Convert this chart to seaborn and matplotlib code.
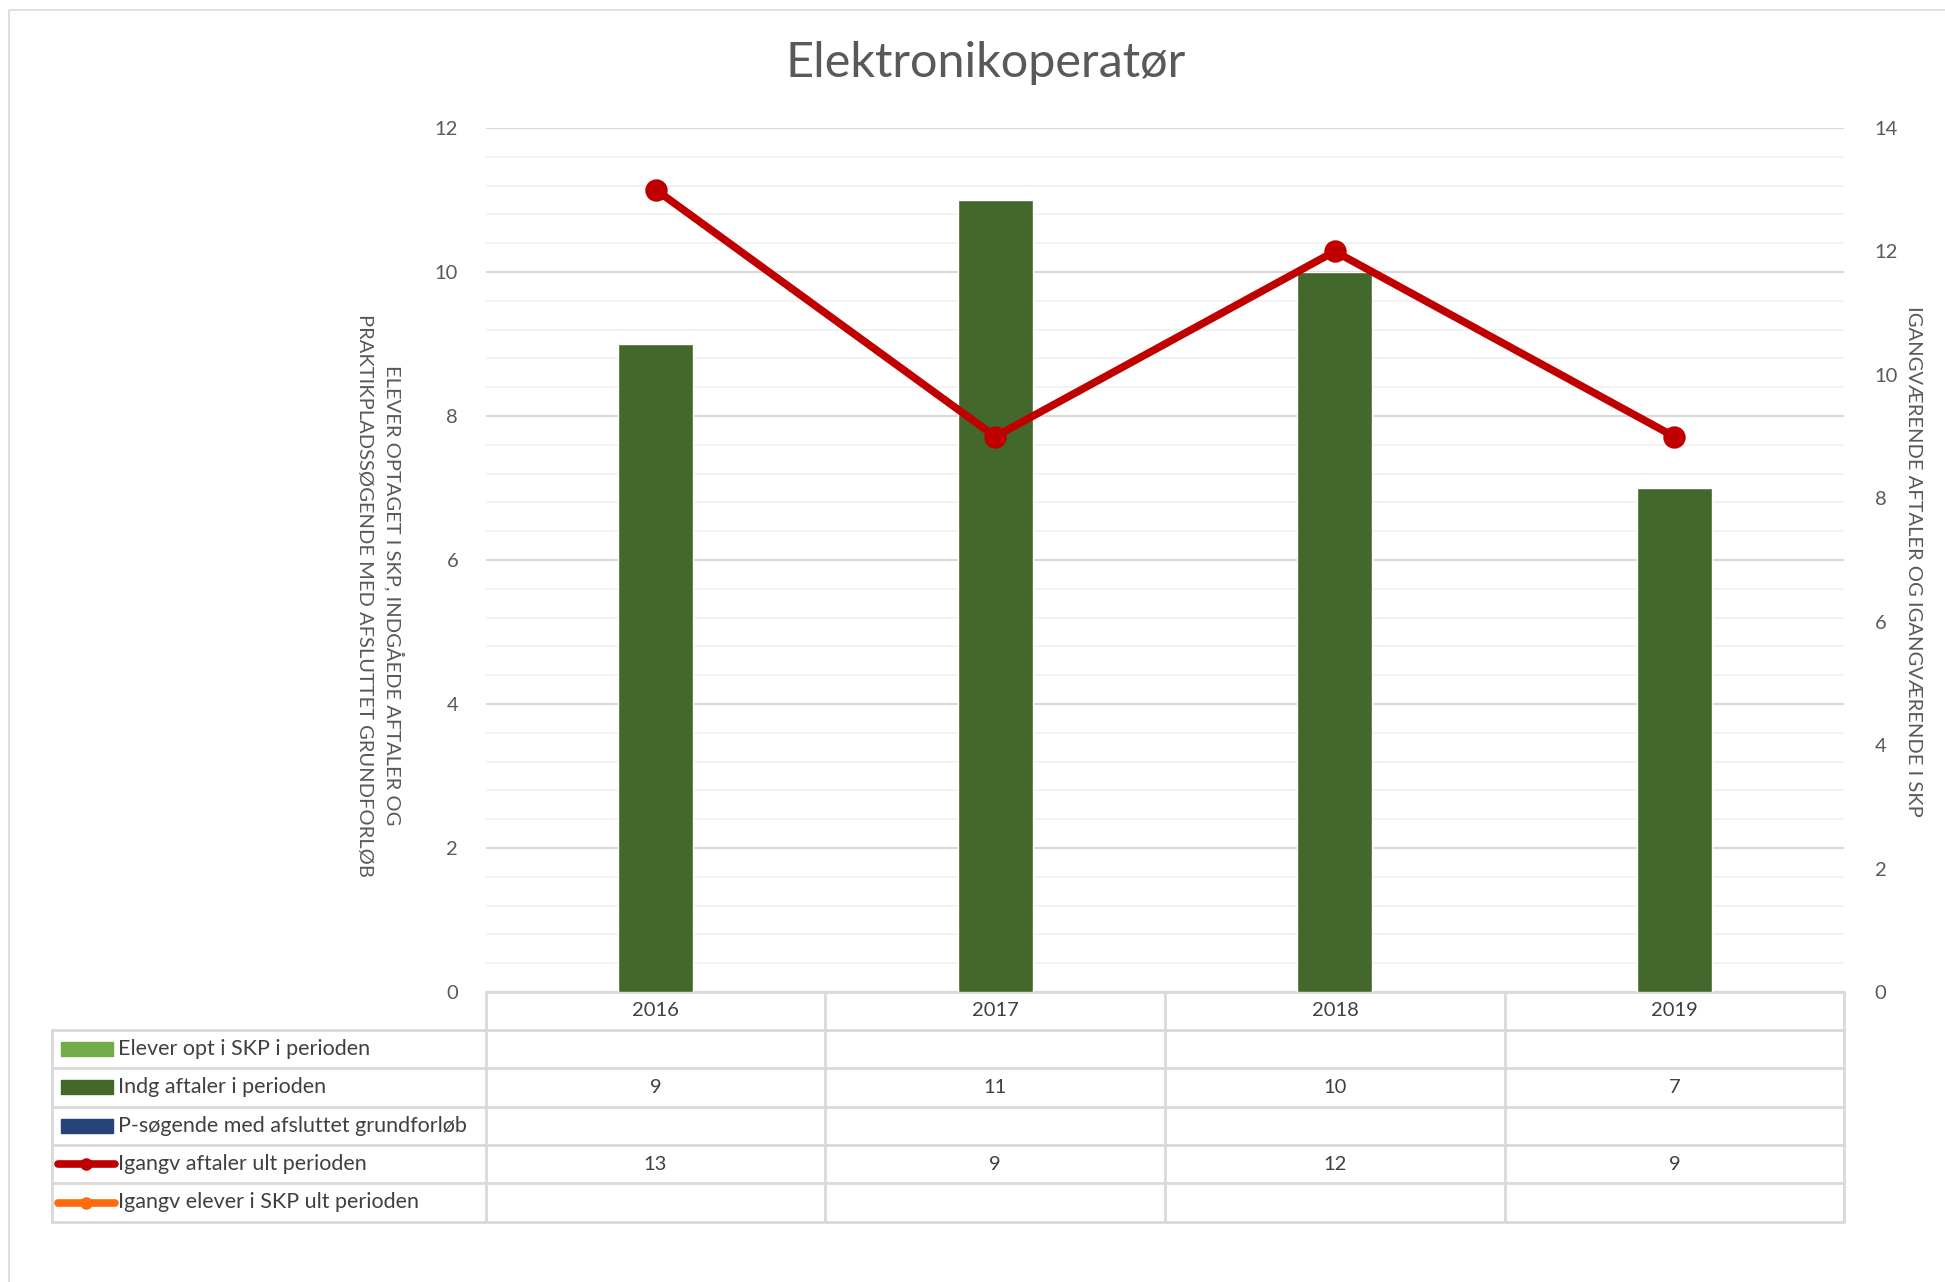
import numpy as np
import pandas as pd
import matplotlib
matplotlib.use("Agg")
import matplotlib.pyplot as plt
from matplotlib.lines import Line2D
from matplotlib.patches import Rectangle
import seaborn as sns

# data
years = ["2016", "2017", "2018", "2019"]
elever_opt = [None, None, None, None]
indg_aftaler = [9, 11, 10, 7]
p_sogende = [None, None, None, None]
igangv_aftaler = [13, 9, 12, 9]
igangv_elever = [None, None, None, None]

series_names = [
    "Elever opt i SKP i perioden",
    "Indg aftaler i perioden",
    "P-søgende med afsluttet grundforløb",
    "Igangv aftaler ult perioden",
    "Igangv elever i SKP ult perioden",
]
series_values = [elever_opt, indg_aftaler, p_sogende, igangv_aftaler, igangv_elever]
series_colors = ["#70AD47", "#43682B", "#264478", "#C00000", "#FF6A0D"]
series_kind = ["bar", "bar", "bar", "line", "line"]

title = "Elektronikoperatør"
left_label = "ELEVER OPTAGET I SKP, INDGÅEDE AFTALER OG\nPRAKTIKPLADSSØGENDE MED AFSLUTTET GRUNDFORLØB"
right_label = "IGANGVÆRENDE AFTALER OG IGANGVÆRENDE I SKP"

sns.set_style("white")
plt.rcParams['font.family'] = ['Lato', 'DejaVu Sans']

W, H = 1945, 1282
fig = plt.figure(figsize=(W / 100, H / 100), dpi=100)

# plot area in pixels
L, R, T, B = 486, 1844, 128, 992
ax = fig.add_axes([L / W, 1 - B / H, (R - L) / W, (B - T) / H])

df = pd.DataFrame({"year": years, "value": indg_aftaler})
sns.barplot(data=df, x="year", y="value", color=series_colors[1], width=0.22,
            saturation=1, ax=ax, zorder=3)
ax.set_xlim(-0.5, len(years) - 0.5)
ax.set_ylim(0, 12)
ax.set_yticks(np.arange(0, 13, 2))
ax.set_yticks(np.arange(0, 12.01, 0.4), minor=True)
ax.grid(True, which="major", axis="y", color="#D9D9D9", linewidth=1.5, zorder=0)
ax.grid(True, which="minor", axis="y", color="#F0F0F0", linewidth=1.2, zorder=0)
ax.set_axisbelow(True)
ax.set_xlabel("")
ax.set_ylabel("")
ax.set_xticklabels([])
ax.tick_params(axis="x", length=0)
ax.tick_params(axis="y", which="both", length=0, pad=20, labelsize=14.5, labelcolor="#595959")
for s in ax.spines.values():
    s.set_visible(False)

ax2 = ax.twinx()
df2 = pd.DataFrame({"year": years, "value": igangv_aftaler})
sns.pointplot(data=df2, x="year", y="value", color=series_colors[3], ax=ax2,
              markers="o", markersize=12, linewidth=5.5, zorder=5)
ax2.set_xlim(-0.5, len(years) - 0.5)
ax2.set_ylim(0, 14)
ax2.set_yticks(np.arange(0, 15, 2))
ax2.set_xlabel("")
ax2.set_ylabel("")
ax2.tick_params(axis="y", length=0, pad=22, labelsize=14.5, labelcolor="#595959")
for s in ax2.spines.values():
    s.set_visible(False)

# titles and axis labels
fig.text(986 / W, 1 - 63 / H, title, ha="center", va="center", fontsize=35, color="#595959")
fig.text(380 / W, 1 - 595 / H, left_label, ha="center", va="center", rotation=270,
         fontsize=14.5, color="#595959", linespacing=1.8)
fig.text(1913 / W, 1 - 561 / H, right_label, ha="center", va="center", rotation=270,
         fontsize=14.5, color="#595959")

# data table below the plot, drawn in pixel coordinates
tax = fig.add_axes([0, 0, 1, 1], zorder=-1)
tax.set_xlim(0, W)
tax.set_ylim(H, 0)
tax.axis("off")
tax.add_patch(Rectangle((9, 10), W, H, fill=False, edgecolor="#D9D9D9", linewidth=1.2))

grid_c = "#D9D9D9"
row_y = [992, 1030, 1068, 1106.5, 1145, 1183, 1222]
col_x = [486, 825, 1165, 1505, 1844]
tbl_left = 52

tax.plot([col_x[0], col_x[-1]], [row_y[0], row_y[0]], color=grid_c, lw=2)
for y in row_y[1:]:
    tax.plot([tbl_left, col_x[-1]], [y, y], color=grid_c, lw=2)
tax.plot([tbl_left, tbl_left], [row_y[1], row_y[-1]], color=grid_c, lw=2)
for x in col_x:
    tax.plot([x, x], [row_y[0], row_y[-1]], color=grid_c, lw=2)

centers = [(col_x[i] + col_x[i + 1]) / 2 for i in range(len(years))]
for cx, yr in zip(centers, years):
    tax.text(cx, (row_y[0] + row_y[1]) / 2, yr, ha="center", va="center",
             fontsize=14.5, color="#404040")

for r, (name, vals, col, kind) in enumerate(zip(series_names, series_values,
                                                  series_colors, series_kind)):
    yc = (row_y[r + 1] + row_y[r + 2]) / 2
    if kind == "bar":
        tax.add_patch(Rectangle((61, yc - 7), 52, 14, color=col))
    else:
        tax.add_line(Line2D([58, 115], [yc, yc], color=col, lw=5.5, solid_capstyle="round"))
        tax.plot([86.5], [yc], marker="o", color=col, markersize=8)
    tax.text(118, yc, name, ha="left", va="center", fontsize=15.5, color="#404040")
    for cx, v in zip(centers, vals):
        if v is not None:
            tax.text(cx, yc, str(v), ha="center", va="center", fontsize=14.5, color="#404040")

fig.savefig("out.png", dpi=100)
plt.close(fig)
